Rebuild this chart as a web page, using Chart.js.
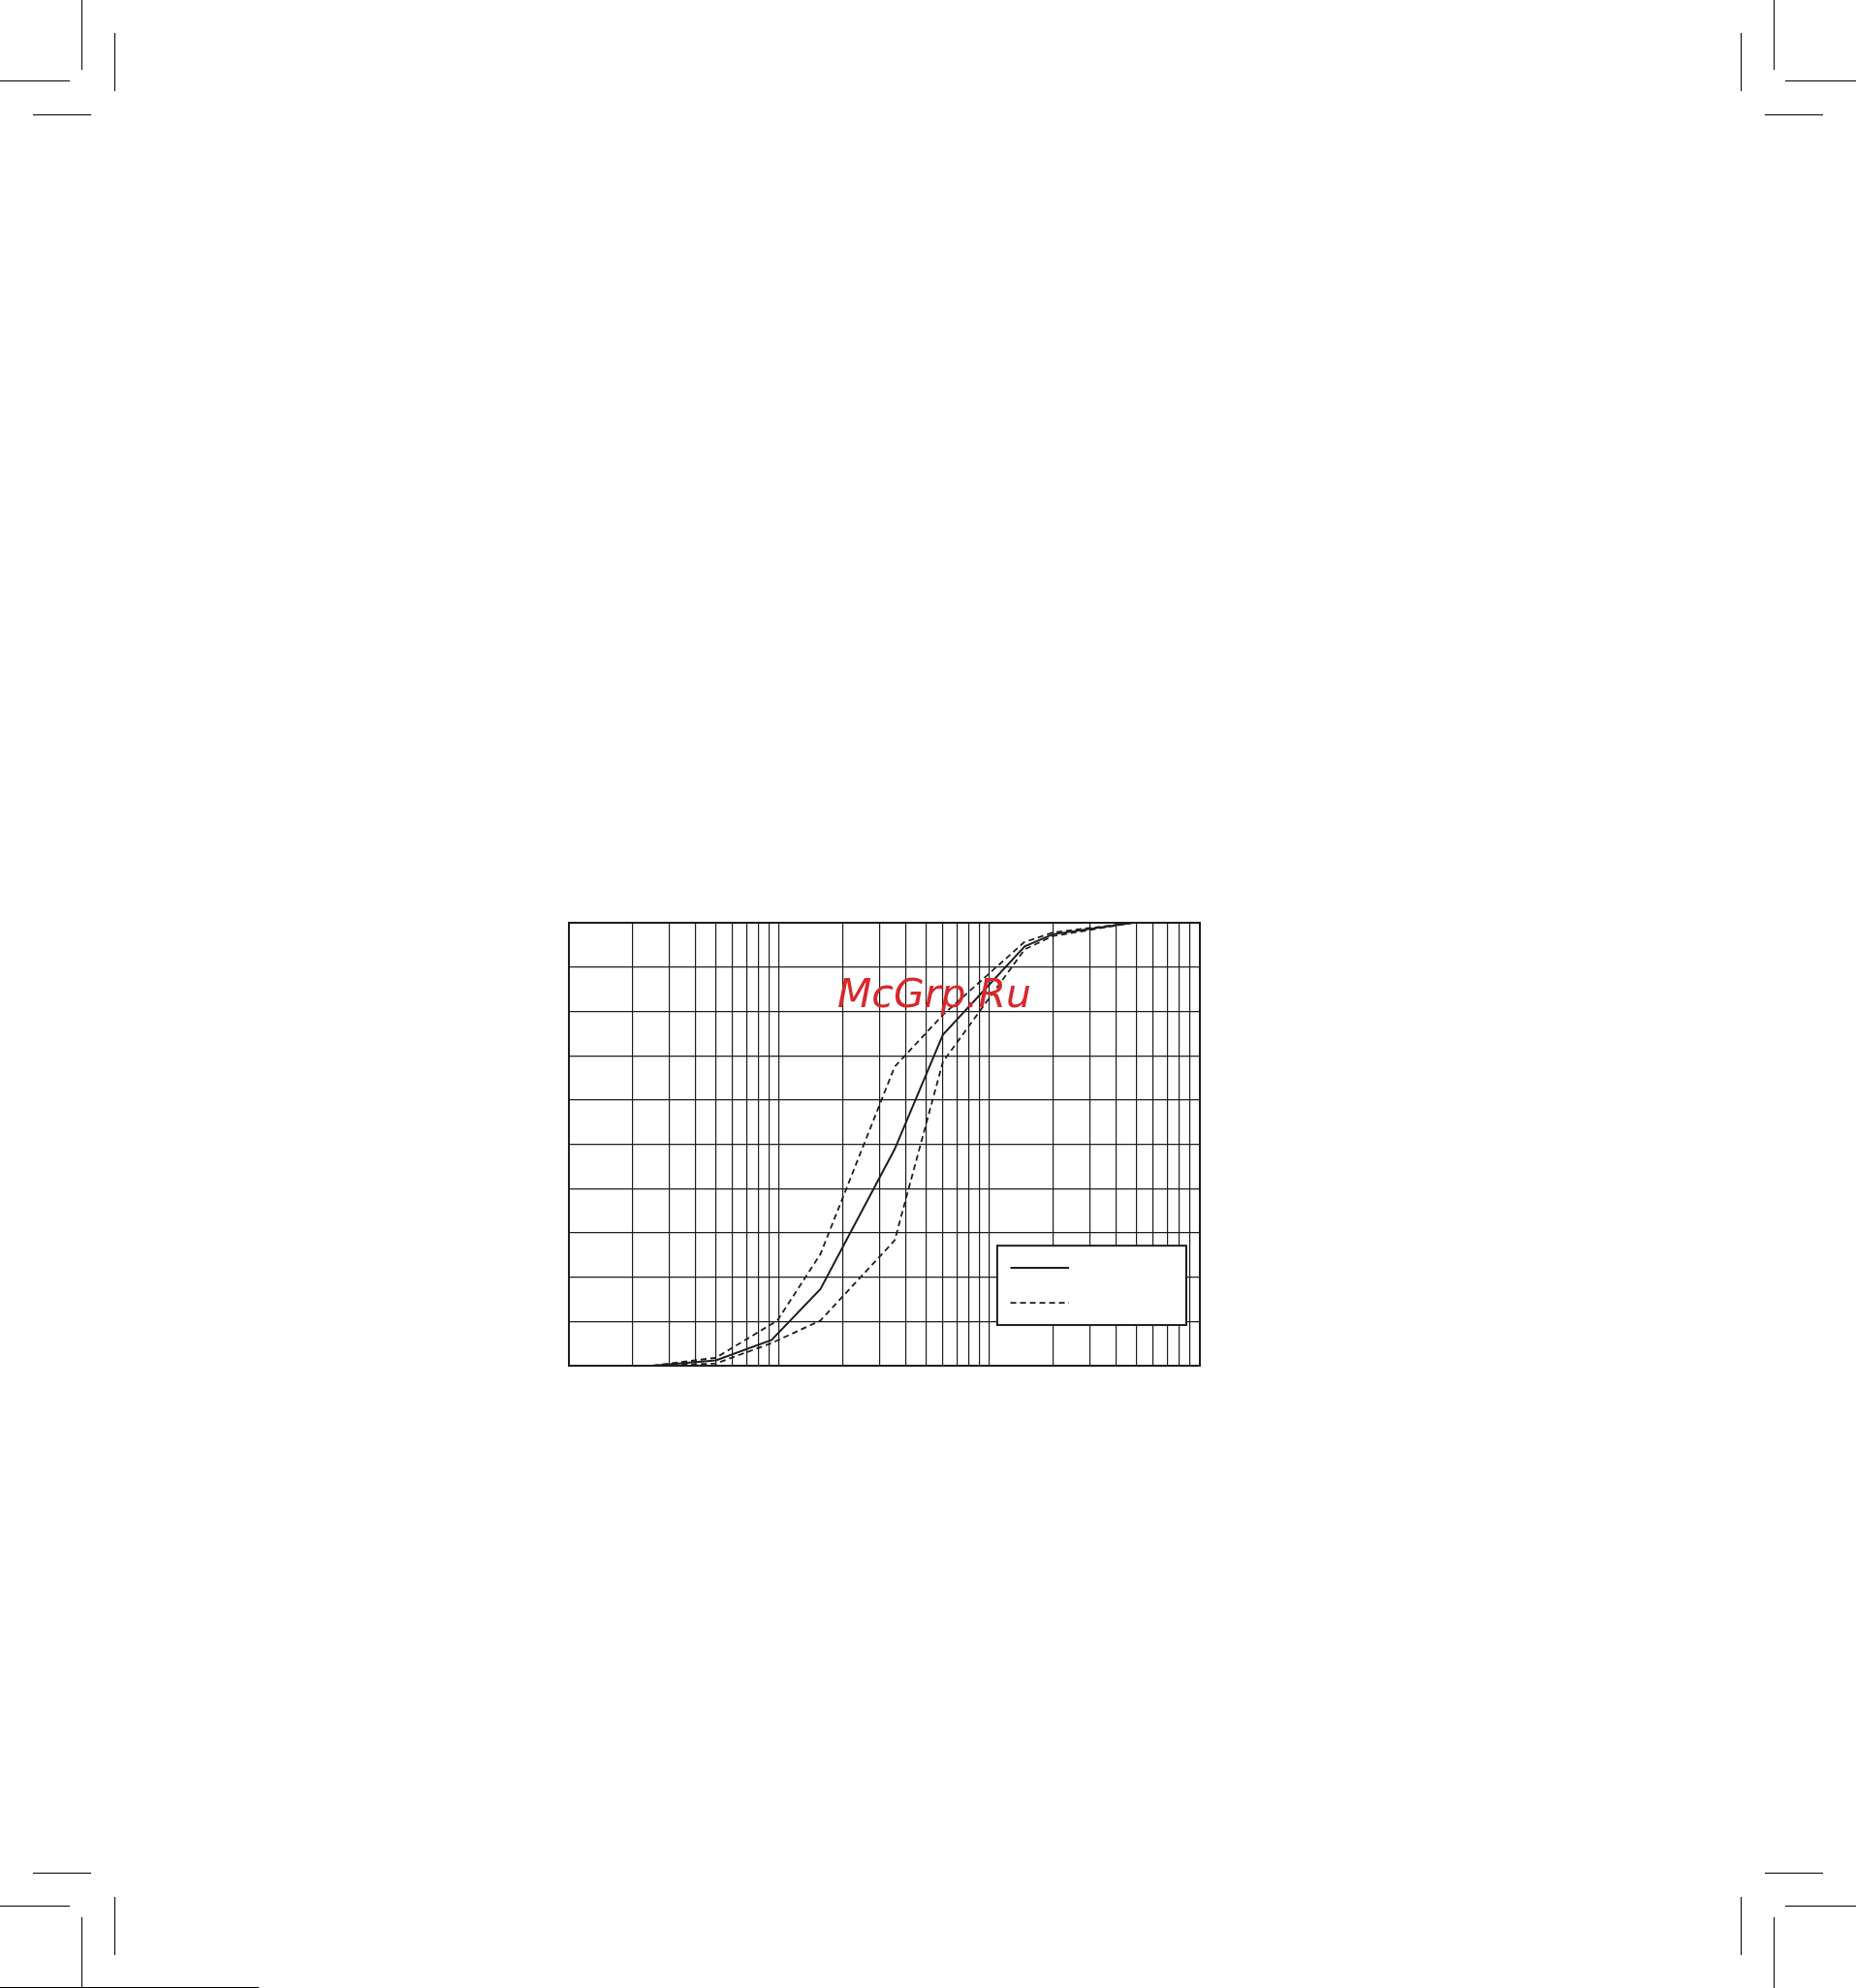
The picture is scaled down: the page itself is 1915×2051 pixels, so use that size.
<!DOCTYPE html>
<html lang="ru">
<head>
  <meta charset="UTF-8" />
  <title>Grading curve</title>
  <script src="https://cdn.jsdelivr.net/npm/chart.js"></script>
  <style>
    html, body {
      margin: 0;
      padding: 0;
      background: #fff;
    }
    body {
      position: relative;
      width: 1915px;
      height: 2051px;
      overflow: hidden;
      font-family: "DejaVu Sans", sans-serif;
    }
    /* crop marks */
    .mark { position: absolute; background: #000; }
    .h { height: 1.3px; }
    .v { width: 1.3px; }
    #chartBox {
      position: absolute;
      left: 577px;
      top: 942px;
      width: 671px;
      height: 477px;
    }
    #stamp {
      position: absolute;
      left: 864px;
      top: 1005px;
      font-family: "DejaVu Sans", sans-serif;
      font-style: oblique;
      font-size: 41px;
      line-height: 40px;
      color: #d8282c;
      white-space: nowrap;
    }
  </style>
</head>
<body>
  <!-- top left -->
  <div class="mark v" style="left:84px;top:0;height:72px"></div>
  <div class="mark h" style="left:0;top:83px;width:72px"></div>
  <div class="mark v" style="left:118px;top:34px;height:60px"></div>
  <div class="mark h" style="left:34px;top:118px;width:60px"></div>
  <!-- top right -->
  <div class="mark v" style="left:1830px;top:0;height:72px"></div>
  <div class="mark h" style="left:1842px;top:83px;width:73px"></div>
  <div class="mark v" style="left:1796px;top:34px;height:60px"></div>
  <div class="mark h" style="left:1821px;top:118px;width:60px"></div>
  <!-- bottom left -->
  <div class="mark h" style="left:34px;top:1932px;width:60px"></div>
  <div class="mark h" style="left:0;top:1966px;width:72px"></div>
  <div class="mark v" style="left:118px;top:1957px;height:60px"></div>
  <div class="mark v" style="left:84px;top:1978px;height:73px"></div>
  <div class="mark h" style="left:0;top:2050px;width:267px"></div>
  <!-- bottom right -->
  <div class="mark h" style="left:1821px;top:1932px;width:60px"></div>
  <div class="mark h" style="left:1842px;top:1966px;width:73px"></div>
  <div class="mark v" style="left:1796px;top:1957px;height:60px"></div>
  <div class="mark v" style="left:1830px;top:1978px;height:73px"></div>

  <div id="chartBox"><canvas id="grading" width="671" height="477"></canvas></div>
  <div id="stamp">McGrp.Ru</div>

  <script>
    // grid: log x axis 1..1000, linear y 0..100
    const decades = [1, 10, 100];
    const significands = [1, 2, 3, 4, 5, 6, 7, 8, 9];
    const yTicks = [0, 10, 20, 30, 40, 50, 60, 70, 80, 90, 100];

    // middle curve (solid)
    const sizeMid = [2.5, 5, 9.2, 15.7, 35.4, 60, 147, 200, 480];
    const passMid = [0, 1.2, 5.8, 17.3, 48.9, 74.7, 94.7, 97.4, 100];

    // upper bound (dashed)
    const sizeUpper = [2.5, 5, 9.8, 15.7, 35.4, 60, 146, 200, 480];
    const passUpper = [0, 1.8, 10.2, 25.2, 67.5, 79.2, 95.6, 97.8, 100];

    // lower bound (dashed)
    const sizeLower = [2.5, 5, 9.2, 15.7, 35.4, 60, 147, 200, 480];
    const passLower = [0, 0.5, 5.1, 10.2, 28.3, 68.6, 94.0, 97.0, 100];

    const xGrid = [];
    decades.forEach(d => significands.forEach(s => xGrid.push(s * d)));
    xGrid.push(1000);

    const toPoints = (xs, ys) => xs.map((x, i) => ({ x: x, y: ys[i] }));

    const ink = '#1e1e1e';

    // frame + legend box drawn on top of the plot
    const framePlugin = {
      id: 'frame',
      afterDatasetsDraw(chart) {
        const { ctx, chartArea: a } = chart;
        const w = a.right - a.left;
        const h = a.bottom - a.top;
        ctx.save();

        // legend box in lower right corner
        const bx = a.left + w * 0.6788;
        const by = a.top + h * 0.7290;
        const bw = w * 0.2997;
        const bh = h * 0.1792;
        ctx.fillStyle = '#fff';
        ctx.fillRect(bx, by, bw, bh);
        ctx.strokeStyle = ink;
        ctx.lineWidth = 2;
        ctx.strokeRect(bx, by, bw, bh);

        const lx0 = bx + bw * 0.070;
        const lx1 = bx + bw * 0.380;
        const samples = [chart.data.datasets[0], chart.data.datasets[1]];
        const rows = [by + bh * 0.28, by + bh * 0.72];
        samples.forEach((ds, i) => {
          ctx.beginPath();
          ctx.setLineDash(ds.borderDash || []);
          ctx.lineWidth = ds.borderWidth;
          ctx.strokeStyle = ds.borderColor;
          ctx.moveTo(lx0, rows[i]);
          ctx.lineTo(lx1, rows[i]);
          ctx.stroke();
        });
        ctx.setLineDash([]);

        // outer frame
        ctx.lineWidth = 2;
        ctx.strokeStyle = ink;
        ctx.strokeRect(a.left, a.top, w, h);
        ctx.restore();
      }
    };

    const ctx = document.getElementById('grading').getContext('2d');
    new Chart(ctx, {
      type: 'scatter',
      data: {
        datasets: [
          {
            label: 'mid',
            data: toPoints(sizeMid, passMid),
            showLine: true,
            borderColor: ink,
            borderWidth: 2,
            pointRadius: 0,
            tension: 0
          },
          {
            label: 'upper',
            data: toPoints(sizeUpper, passUpper),
            showLine: true,
            borderColor: ink,
            borderWidth: 1.8,
            borderDash: [6, 4],
            pointRadius: 0,
            tension: 0
          },
          {
            label: 'lower',
            data: toPoints(sizeLower, passLower),
            showLine: true,
            borderColor: ink,
            borderWidth: 1.8,
            borderDash: [6, 4],
            pointRadius: 0,
            tension: 0
          }
        ]
      },
      options: {
        responsive: false,
        animation: false,
        layout: { padding: 10 },
        plugins: {
          legend: { display: false },
          tooltip: { enabled: false }
        },
        scales: {
          x: {
            type: 'logarithmic',
            min: 1,
            max: 1000,
            afterBuildTicks: scale => {
              scale.ticks = xGrid.map(v => ({ value: v }));
            },
            afterFit: scale => { scale.height = 0; },
            ticks: { display: false },
            border: { display: false },
            grid: { color: ink, lineWidth: 1.2, drawTicks: false }
          },
          y: {
            min: 0,
            max: 100,
            afterBuildTicks: scale => {
              scale.ticks = yTicks.map(v => ({ value: v }));
            },
            afterFit: scale => { scale.width = 0; },
            ticks: { display: false },
            border: { display: false },
            grid: { color: ink, lineWidth: 1.2, drawTicks: false }
          }
        }
      },
      plugins: [framePlugin]
    });
  </script>
</body>
</html>
